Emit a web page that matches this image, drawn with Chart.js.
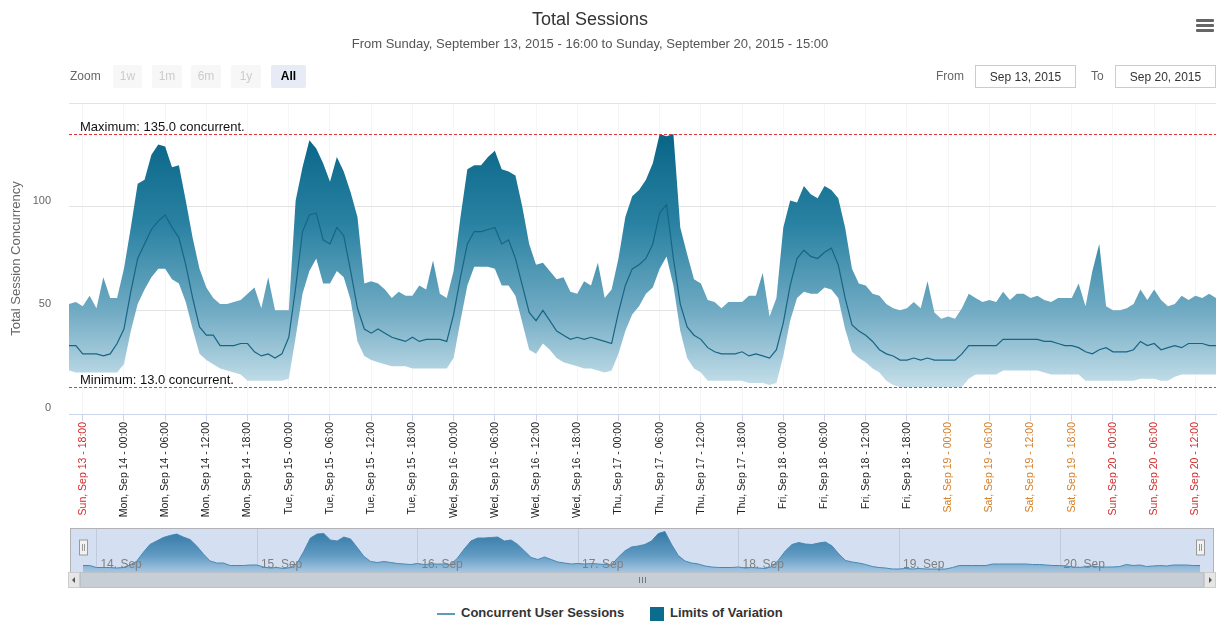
<!DOCTYPE html>
<html>
<head>
<meta charset="utf-8">
<title>Total Sessions</title>
<script src="https://cdn.jsdelivr.net/npm/chart.js@4.4.0/dist/chart.umd.min.js"></script>
<style>
    body{margin:0;background:#fff;font-family:"Liberation Sans",Arial,sans-serif;}
    #wrap{position:relative;width:1221px;height:623px;overflow:hidden;background:#fff;}
    canvas{position:absolute;left:0;}
    #mainChart{top:0;}
    #navChart{top:520px;}
    .title{position:absolute;left:0;width:1180px;top:9px;text-align:center;font-size:18px;color:#333;}
    .subtitle{position:absolute;left:0;width:1180px;top:36px;text-align:center;font-size:13px;color:#555;}
    .menu{position:absolute;left:1196px;top:19px;width:18px;}
    .menu span{display:block;height:3px;background:#666;margin-bottom:2px;border-radius:1px;}
    .zoom{position:absolute;left:70px;top:69px;font-size:12px;color:#666;}
    .btn{position:absolute;top:65px;height:23px;line-height:23px;text-align:center;font-size:12px;border-radius:2px;}
    .btn.off{background:#f7f7f7;color:#cccccc;}
    .btn.on{background:#e6ebf5;color:#000;font-weight:bold;}
    .lbl{position:absolute;top:69px;font-size:12px;color:#666;}
    .inp{position:absolute;top:65px;width:101px;height:23px;line-height:23px;border:1px solid #cccccc;text-align:center;font-size:12px;color:#333;box-sizing:border-box;}
    .legend{position:absolute;top:605px;font-size:13px;font-weight:bold;color:#333;}
</style>
</head>
<body>
<div id="wrap">

    <canvas id="mainChart" width="1221" height="525"></canvas>
    <canvas id="navChart" width="1221" height="72"></canvas>

    <!-- ===== HEADER ===== -->
    <div class="title">Total Sessions</div>
    <div class="subtitle">From Sunday, September 13, 2015 - 16:00 to Sunday, September 20, 2015 - 15:00</div>
    <div class="menu"><span></span><span></span><span></span></div>

    <!-- ===== RANGE SELECTOR ===== -->
    <div class="zoom">Zoom</div>
    <div class="btn off" style="left:113px;width:29px">1w</div>
    <div class="btn off" style="left:152px;width:30px">1m</div>
    <div class="btn off" style="left:191px;width:30px">6m</div>
    <div class="btn off" style="left:231px;width:30px">1y</div>
    <div class="btn on" style="left:271px;width:35px">All</div>
    <div class="lbl" style="left:936px">From</div>
    <div class="inp" style="left:975px">Sep 13, 2015</div>
    <div class="lbl" style="left:1091px">To</div>
    <div class="inp" style="left:1115px">Sep 20, 2015</div>

    <!-- ===== LEGEND ===== -->
    <div style="position:absolute;left:437px;top:613px;width:18px;height:2px;background:#5d9bb7"></div>
    <div class="legend" style="left:461px">Concurrent User Sessions</div>
    <div style="position:absolute;left:650px;top:607px;width:14px;height:14px;background:#0b6c8d"></div>
    <div class="legend" style="left:670px">Limits of Variation</div>

</div>

<script>

/* ===== DATA (hourly, from Sun Sep 13 16:00 to Sun Sep 20 15:00) ===== */

const sessions = [
    33,33,29,29,29,28,29,34,41,59,
    75,82,89,93,96,90,85,72,56,42,
    38,38,33,33,33,34,34,30,28,29,
    27,29,37,61,88,96,97,84,82,90,
    86,69,51,41,39,41,39,37,36,35,
    37,35,36,36,36,35,48,66,82,88,
    88,89,90,82,84,75,62,49,45,50,
    45,40,38,36,37,36,37,36,35,34,
    49,62,70,72,75,82,97,101,75,53,
    42,38,36,32,30,29,29,29,30,28,
    29,28,27,31,44,62,75,79,76,75,
    78,80,72,56,43,40,38,35,31,29,
    28,26,26,27,26,27,26,26,26,26,
    29,33,33,33,33,33,36,36,36,36,
    36,36,35,35,34,33,33,32,30,29,
    31,32,30,30,30,31,35,33,34,31,
    32,33,32,34,34,34,33,33
];

const upperLimit = [
    53,54,52,57,51,66,56,56,70,90,
    111,113,125,130,129,119,120,103,85,70,
    61,56,53,53,54,55,58,61,51,66,
    50,50,50,103,119,132,128,121,112,124,
    117,107,95,63,64,63,60,56,59,57,
    57,62,60,74,58,56,69,95,118,120,
    120,124,127,118,117,115,100,82,72,73,
    69,65,66,59,58,64,62,73,56,60,
    75,95,105,108,113,121,135,134,135,90,
    77,65,63,55,54,51,54,54,54,57,
    57,68,47,56,90,103,102,110,106,104,
    110,108,104,90,70,63,62,58,57,53,
    51,50,51,54,51,64,49,46,47,46,
    51,58,56,54,55,54,59,55,58,58,
    56,57,55,54,56,56,56,63,52,69,
    82,52,50,50,51,53,60,55,60,55,
    52,53,57,55,57,56,58,56
];

const lowerLimit = [
    21,20,20,20,20,20,20,20,24,40,
    53,60,66,70,70,65,63,54,41,29,
    26,24,22,21,20,19,16,16,16,16,
    16,16,17,37,58,69,75,63,63,69,
    66,55,35,28,26,25,24,23,23,23,
    22,22,22,22,22,22,27,45,62,71,
    71,71,70,62,62,57,44,31,29,34,
    31,27,25,24,23,22,22,21,20,21,
    29,40,48,52,58,61,70,76,62,40,
    27,22,20,16,16,16,16,16,16,15,
    15,15,14,15,28,45,56,59,58,58,
    61,60,56,41,30,27,25,22,20,16,
    14,13,13,13,13,13,13,13,13,13,
    13,17,19,19,19,19,21,21,21,21,
    21,21,20,19,19,19,19,19,16,16,
    16,16,16,16,16,16,17,17,17,16,
    16,18,19,19,19,19,19,19
];

const tickLabels = [
    "Sun, Sep 13 - 18:00",
    "Mon, Sep 14 - 00:00","Mon, Sep 14 - 06:00","Mon, Sep 14 - 12:00","Mon, Sep 14 - 18:00",
    "Tue, Sep 15 - 00:00","Tue, Sep 15 - 06:00","Tue, Sep 15 - 12:00","Tue, Sep 15 - 18:00",
    "Wed, Sep 16 - 00:00","Wed, Sep 16 - 06:00","Wed, Sep 16 - 12:00","Wed, Sep 16 - 18:00",
    "Thu, Sep 17 - 00:00","Thu, Sep 17 - 06:00","Thu, Sep 17 - 12:00","Thu, Sep 17 - 18:00",
    "Fri, Sep 18 - 00:00","Fri, Sep 18 - 06:00","Fri, Sep 18 - 12:00","Fri, Sep 18 - 18:00",
    "Sat, Sep 19 - 00:00","Sat, Sep 19 - 06:00","Sat, Sep 19 - 12:00","Sat, Sep 19 - 18:00",
    "Sun, Sep 20 - 00:00","Sun, Sep 20 - 06:00","Sun, Sep 20 - 12:00"
];

const navLabels = ["14. Sep","15. Sep","16. Sep","17. Sep","18. Sep","19. Sep","20. Sep"];

const yTicks = [0,50,100,150];
const maxLine = 135;
const minLine = 13;

/* hour offsets used as x values */
const hours = sessions.map((_,i)=>i);
const tickHours = tickLabels.map((_,i)=>2 + i*6);
const navHours = navLabels.map((_,i)=>2 + i*24);

const FONT = "'Liberation Sans', Arial, sans-serif";

function labelColor(text){
    if(text.startsWith("Sun")) return "#d42a2a";
    if(text.startsWith("Sat")) return "#d47f2a";
    return "#222";
}

function bandGradient(context){
    const chart = context.chart;
    if(!chart.chartArea) return "rgba(14,110,140,0.6)";
    const y = chart.scales.y;
    const g = chart.ctx.createLinearGradient(0, y.getPixelForValue(135), 0, y.getPixelForValue(10));
    g.addColorStop(0, "rgb(8,101,135)");
    g.addColorStop(0.35, "rgb(42,130,162)");
    g.addColorStop(0.68, "rgb(112,170,195)");
    g.addColorStop(1, "rgb(205,228,237)");
    return g;
}

/* ===== PLOT LINES (max / min) ===== */

const plotLines = {
    id:"plotLines",
    afterDatasetsDraw(chart){
        const {ctx, chartArea, scales:{y}} = chart;
        const lines = [
            {value:maxLine, color:"#e2323c", text:"Maximum: " + maxLine.toFixed(1) + " concurrent."},
            {value:minLine, color:"#2f9a2f", text:"Minimum: " + minLine.toFixed(1) + " concurrent."}
        ];
        ctx.save();
        lines.forEach(l=>{
            const py = Math.round(y.getPixelForValue(l.value)) + 0.5;
            ctx.strokeStyle = l.color;
            ctx.lineWidth = 1;
            ctx.setLineDash([3,2]);
            ctx.beginPath();
            ctx.moveTo(chartArea.left, py);
            ctx.lineTo(chartArea.right, py);
            ctx.stroke();
            ctx.setLineDash([]);
            ctx.fillStyle = "#111";
            ctx.font = "13px " + FONT;
            ctx.textAlign = "left";
            ctx.textBaseline = "alphabetic";
            ctx.fillText(l.text, chartArea.left + 11, py - 4);
        });
        ctx.restore();
    }
};

new Chart(document.getElementById("mainChart"),{
    type:"line",
    data:{
        labels:hours,
        datasets:[
            {
                label:"Concurrent User Sessions",
                data:sessions,
                borderColor:"#176585",
                borderWidth:1.2,
                pointRadius:0,
                fill:false,
                tension:0
            },
            {
                label:"Limits of Variation",
                data:upperLimit,
                borderWidth:0,
                pointRadius:0,
                backgroundColor:bandGradient,
                fill:2,
                tension:0
            },
            {
                label:"Lower",
                data:lowerLimit,
                borderWidth:0,
                pointRadius:0,
                fill:false,
                tension:0
            }
        ]
    },
    options:{
        responsive:false,
        animation:false,
        layout:{padding:{top:103,right:5,left:0,bottom:0}},
        plugins:{legend:{display:false},tooltip:{enabled:false}},
        scales:{
            x:{
                type:"linear",
                min:0,
                max:hours.length - 1,
                afterBuildTicks(scale){
                    scale.ticks = tickHours.map(v=>({value:v}));
                },
                afterFit(scale){ scale.height = 111; },
                grid:{
                    color:"rgba(0,0,0,0.035)",
                    tickColor:"#ccd6eb",
                    tickLength:7
                },
                border:{color:"#ccd6eb"},
                ticks:{
                    autoSkip:false,
                    minRotation:90,
                    maxRotation:90,
                    padding:1,
                    font:{size:10.5,family:FONT},
                    color:(c)=>labelColor(tickLabels[c.index] || ""),
                    callback:(v,i)=>tickLabels[i]
                }
            },
            y:{
                min:yTicks[0],
                max:yTicks[yTicks.length - 1],
                afterBuildTicks(scale){
                    scale.ticks = yTicks.map(v=>({value:v}));
                },
                afterFit(scale){ scale.width = 69; },
                border:{display:false},
                grid:{
                    drawTicks:false,
                    color:(c)=>c.tick && c.tick.value === 0 ? "rgba(0,0,0,0)" : "#e3e3e3"
                },
                ticks:{
                    padding:18,
                    labelOffset:-6,
                    color:"#666",
                    font:{size:11,family:FONT},
                    callback:(v)=>v === 150 ? "" : v
                },
                title:{
                    display:true,
                    text:"Total Session Concurrency",
                    color:"#666",
                    font:{size:13,family:FONT},
                    padding:{top:9,bottom:0}
                }
            }
        }
    },
    plugins:[plotLines]
});

/* ===== NAVIGATOR ===== */

function navGradient(context){
    const chart = context.chart;
    if(!chart.chartArea) return "rgba(60,140,175,0.6)";
    const {top, bottom} = chart.chartArea;
    const g = chart.ctx.createLinearGradient(0, top, 0, bottom);
    g.addColorStop(0, "rgb(28,112,150)");
    g.addColorStop(0.6, "rgb(95,160,190)");
    g.addColorStop(1, "rgb(190,220,234)");
    return g;
}

const navigatorDecor = {
    id:"navigatorDecor",
    beforeDatasetsDraw(chart){
        const {ctx, chartArea, scales:{x}} = chart;
        ctx.save();
        ctx.strokeStyle = "#e2e2e2";
        ctx.lineWidth = 1;
        navHours.forEach(h=>{
            const px = Math.round(x.getPixelForValue(h)) + 0.5;
            ctx.beginPath();
            ctx.moveTo(px, chartArea.top - 2);
            ctx.lineTo(px, chartArea.bottom);
            ctx.stroke();
        });
        ctx.restore();
    },
    afterDatasetsDraw(chart){
        const {ctx, chartArea, scales:{x}} = chart;
        const left = 70, right = 1214;
        const top = chartArea.top - 2, bottom = chartArea.bottom;
        ctx.save();

        /* selection mask */
        ctx.fillStyle = "rgba(102,140,205,0.28)";
        ctx.fillRect(left, top, right - left, bottom - top);

        /* labels */
        ctx.fillStyle = "#7f7f7f";
        ctx.font = "12px " + FONT;
        ctx.textAlign = "left";
        ctx.textBaseline = "middle";
        navLabels.forEach((t,i)=>{
            ctx.fillText(t, x.getPixelForValue(navHours[i]) + 4, bottom - 7);
        });

        /* outline */
        ctx.strokeStyle = "#b2b1b6";
        ctx.lineWidth = 1;
        ctx.strokeRect(left + 0.5, top + 0.5, right - left - 1, bottom - top);

        /* handles */
        [chartArea.left, chartArea.right].forEach(hx=>{
            const hxr = Math.round(hx) - 4 + 0.5;
            ctx.fillStyle = "#f2f2f2";
            ctx.strokeStyle = "#999";
            ctx.fillRect(hxr, top + 12, 8, 15);
            ctx.strokeRect(hxr, top + 12, 8, 15);
            ctx.beginPath();
            ctx.moveTo(hxr + 3, top + 16); ctx.lineTo(hxr + 3, top + 23);
            ctx.moveTo(hxr + 5, top + 16); ctx.lineTo(hxr + 5, top + 23);
            ctx.stroke();
        });

        /* scrollbar */
        const sy = bottom, sh = 16, sl = 68, sr = 1216;
        ctx.fillStyle = "#eeeeee";
        ctx.fillRect(sl, sy, sr - sl, sh);
        ctx.fillStyle = "#c8ced6";
        ctx.fillRect(sl + 12, sy, sr - sl - 24, sh);
        ctx.strokeStyle = "#bbc1c9";
        ctx.strokeRect(sl + 12.5, sy + 0.5, sr - sl - 25, sh - 1);
        ctx.fillStyle = "#e6e6e6";
        ctx.fillRect(sl, sy, 12, sh);
        ctx.fillRect(sr - 12, sy, 12, sh);
        ctx.strokeStyle = "#cccccc";
        ctx.strokeRect(sl + 0.5, sy + 0.5, 11, sh - 1);
        ctx.strokeRect(sr - 11.5, sy + 0.5, 11, sh - 1);
        ctx.fillStyle = "#555";
        ctx.beginPath();
        ctx.moveTo(sl + 4, sy + 8); ctx.lineTo(sl + 7, sy + 5); ctx.lineTo(sl + 7, sy + 11); ctx.closePath();
        ctx.moveTo(sr - 4, sy + 8); ctx.lineTo(sr - 7, sy + 5); ctx.lineTo(sr - 7, sy + 11); ctx.closePath();
        ctx.fill();
        ctx.strokeStyle = "#777";
        const gx = Math.round((sl + sr) / 2) + 0.5;
        ctx.beginPath();
        [-3,0,3].forEach(d=>{ ctx.moveTo(gx + d, sy + 5); ctx.lineTo(gx + d, sy + 11); });
        ctx.stroke();

        ctx.restore();
    }
};

new Chart(document.getElementById("navChart"),{
    type:"line",
    data:{
        labels:hours,
        datasets:[{
            data:sessions,
            borderColor:"#3f86a8",
            borderWidth:1,
            pointRadius:0,
            backgroundColor:navGradient,
            fill:"start",
            tension:0
        }]
    },
    options:{
        responsive:false,
        animation:false,
        layout:{padding:{top:10,right:21,left:83,bottom:20}},
        plugins:{legend:{display:false},tooltip:{enabled:false}},
        scales:{
            x:{type:"linear",min:0,max:hours.length - 1,display:false},
            y:{min:20,max:104,display:false}
        }
    },
    plugins:[navigatorDecor]
});

</script>
</body>
</html>
